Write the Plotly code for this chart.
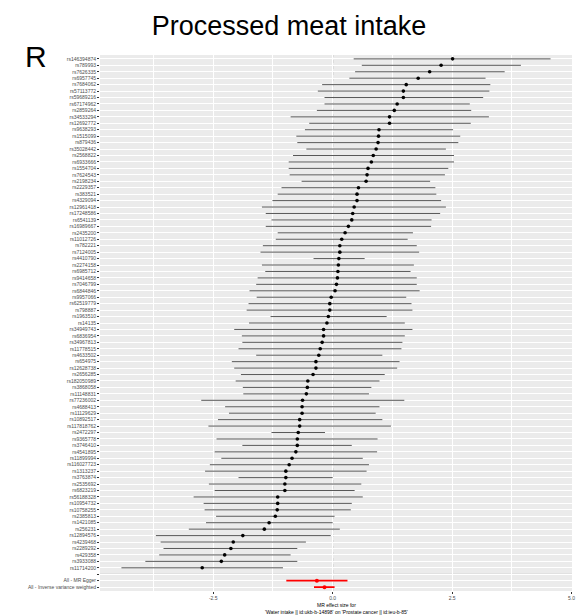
import plotly.graph_objects as go

# ---------------- data (top row first) ----------------
snps = [
    "rs146394874", "rs789993", "rs7626335", "rs6957745", "rs7684062", "rs57113772",
    "rs59689216", "rs67174962", "rs2859264", "rs34533294", "rs12692772", "rs9638293",
    "rs1515099", "rs879436", "rs35028442", "rs2568822", "rs6933666", "rs1554704",
    "rs7624543", "rs2198234", "rs2229357", "rs383521", "rs4329094", "rs12961418",
    "rs17248586", "rs6541139", "rs16989667", "rs2435200", "rs11012726", "rs782221",
    "rs7124005", "rs4410790", "rs2274158", "rs6985712", "rs9414658", "rs7046799",
    "rs6844846", "rs9957066", "rs62519779", "rs798887", "rs1963510", "rs14135",
    "rs34949743", "rs6836954", "rs34967813", "rs11778515", "rs4633502", "rs654975",
    "rs12628738", "rs2656285", "rs182050989", "rs3868058", "rs11148831", "rs77236002",
    "rs4688413", "rs11129629", "rs10892517", "rs117818762", "rs2472297", "rs9365778",
    "rs3746410", "rs4541895", "rs11899994", "rs116027723", "rs1313237", "rs3763874",
    "rs2535692", "rs6823219", "rs56188328", "rs10954732", "rs10758255", "rs2385813",
    "rs1421085", "rs256231", "rs12894576", "rs4239468", "rs2289292", "rs429358",
    "rs3933088", "rs11714200",
]

beta = [
    2.51, 2.27, 2.03, 1.79, 1.54, 1.48, 1.48, 1.35, 1.29, 1.19, 1.19, 0.97, 0.96, 0.95,
    0.91, 0.85, 0.81, 0.74, 0.72, 0.70, 0.54, 0.51, 0.51, 0.45, 0.42, 0.40, 0.33, 0.26,
    0.19, 0.15, 0.15, 0.13, 0.12, 0.11, 0.10, 0.08, 0.05, -0.03, -0.06, -0.06, -0.09,
    -0.12, -0.19, -0.19, -0.22, -0.26, -0.29, -0.35, -0.35, -0.41, -0.52, -0.53, -0.55,
    -0.63, -0.64, -0.64, -0.69, -0.69, -0.72, -0.74, -0.74, -0.77, -0.85, -0.91, -0.98,
    -0.98, -1.00, -1.00, -1.15, -1.15, -1.16, -1.20, -1.33, -1.43, -1.88, -2.08, -2.13,
    -2.26, -2.33, -2.73,
]

ci_lo = [
    0.44, 0.61, 0.47, 0.35, -0.22, -0.31, -0.17, -0.17, -0.33, -0.88, -0.49, -0.58,
    -0.76, -0.74, -0.55, -0.83, -0.92, -0.92, -0.90, -0.65, -1.07, -1.15, -1.26, -1.48,
    -1.40, -1.28, -1.40, -1.15, -1.19, -1.46, -1.51, -0.40, -1.48, -1.41, -1.57, -1.60,
    -1.74, -1.59, -1.76, -1.80, -1.30, -1.75, -2.06, -1.90, -1.89, -1.97, -1.60, -2.11,
    -2.06, -1.92, -2.03, -1.88, -1.87, -2.75, -2.25, -2.17, -2.40, -2.60, -1.28, -2.43,
    -1.89, -2.47, -2.33, -2.57, -2.67, -1.97, -2.59, -2.47, -2.91, -2.70, -2.68, -2.44,
    -2.65, -3.01, -3.70, -3.60, -3.54, -3.63, -3.92, -4.42,
]

ci_hi = [
    4.56, 3.94, 3.60, 3.20, 3.30, 3.28, 3.15, 2.87, 2.90, 3.27, 2.89, 2.52, 2.67, 2.63,
    2.37, 2.54, 2.54, 2.42, 2.35, 2.04, 2.15, 2.17, 2.27, 2.37, 2.25, 2.07, 2.06, 1.68,
    1.57, 1.76, 1.81, 0.67, 1.70, 1.63, 1.76, 1.76, 1.82, 1.54, 1.65, 1.67, 1.13, 1.51,
    1.67, 1.51, 1.46, 1.44, 1.04, 1.40, 1.35, 1.09, 0.98, 0.81, 0.76, 1.50, 0.98, 0.90,
    1.04, 1.22, -0.16, 0.94, 0.40, 0.93, 0.63, 0.76, 0.71, 0.00, 0.60, 0.46, 0.63, 0.40,
    0.38, 0.04, 0.00, 0.15, -0.04, -0.56, -0.74, -0.88, -0.74, -1.04,
]

summary_labels = ["All - MR Egger", "All - Inverse variance weighted"]
summary_beta = [-0.33, -0.17]
summary_lo = [-0.97, -0.39]
summary_hi = [0.31, 0.04]

x_tick_vals = [-2.5, 0.0, 2.5, 5.0]
x_tick_text = ["-2.5", "0.0", "2.5", "5.0"]

title_text = "Processed meat intake"
panel_letter = "R"
x_title = ("MR effect size for<br>'Water intake || id:ukb-b-14898' on "
           "'Prostate cancer || id:ieu-b-85'")

# ---------------- layout helpers ----------------
rows = snps + [""] + summary_labels
n_rows = len(rows)
ypos = [n_rows - i for i in range(n_rows)]
snp_y = ypos[:len(snps)]
blank_y = ypos[len(snps)]
sum_y = ypos[len(snps) + 1:]

all_lo = min(ci_lo + summary_lo)
all_hi = max(ci_hi + summary_hi)
span = all_hi - all_lo
x_range = [all_lo - 0.05 * span, all_hi + 0.05 * span]

W, H = 578, 615
ML, MR, MT, MB = 100, 3, 55, 24
plot_h = H - MT - MB
plot_w = W - ML - MR
FONT = "Liberation Sans, Arial, sans-serif"

fig = go.Figure()

fig.add_trace(go.Scatter(
    x=beta, y=snp_y, mode="markers",
    marker=dict(color="black", size=3.6),
    error_x=dict(type="data", symmetric=False,
                 array=[h - b for h, b in zip(ci_hi, beta)],
                 arrayminus=[b - l for b, l in zip(beta, ci_lo)],
                 width=0, thickness=1, color="#585858"),
    showlegend=False, hoverinfo="skip",
))

fig.add_trace(go.Scatter(
    x=summary_beta, y=sum_y, mode="markers",
    marker=dict(color="#ff0000", size=4),
    error_x=dict(type="data", symmetric=False,
                 array=[h - b for h, b in zip(summary_hi, summary_beta)],
                 arrayminus=[b - l for b, l in zip(summary_beta, summary_lo)],
                 width=0, thickness=1.8, color="#ff0000"),
    showlegend=False, hoverinfo="skip",
))

# dotted zero line and grey separator at blank row
fig.add_shape(type="line", xref="x", yref="paper", x0=0, x1=0, y0=0, y1=1,
              line=dict(color="#8a8a8a", width=1, dash="dot"), layer="below")
fig.add_shape(type="line", xref="paper", yref="y", x0=0, x1=1, y0=blank_y, y1=blank_y,
              line=dict(color="#c4c4c4", width=1.2), layer="below")

fig.update_layout(
    width=W, height=H,
    margin=dict(l=ML, r=MR, t=MT, b=MB),
    paper_bgcolor="white", plot_bgcolor="#EBEBEB",
    font=dict(family=FONT, color="#4D4D4D"),
    title=dict(text=title_text, font=dict(size=27, color="black", family=FONT),
               x=0.5, xref="container", xanchor="center",
               y=1 - 26 / H, yref="container", yanchor="middle"),
    xaxis=dict(range=x_range, tickmode="array", tickvals=x_tick_vals, ticktext=x_tick_text,
               tickfont=dict(size=5, color="#4D4D4D"), ticks="outside", ticklen=2,
               tickcolor="#333333", tickwidth=1, ticklabeloverflow="allow",
               showgrid=True, gridcolor="white", gridwidth=1,
               minor=dict(tickmode="array", tickvals=[-3.75, -1.25, 1.25, 3.75],
                          showgrid=True, gridcolor="white", gridwidth=0.5, ticks=""),
               zeroline=False, showline=False, fixedrange=True),
    yaxis=dict(range=[0.4, n_rows + 0.6], tickmode="array", tickvals=ypos, ticktext=rows,
               tickfont=dict(size=5, color="#4D4D4D"), ticks="outside", ticklen=2,
               tickcolor="#333333", tickwidth=1, ticklabeloverflow="allow",
               showgrid=True, gridcolor="white", gridwidth=1,
               zeroline=False, showline=False, fixedrange=True),
)

fig.add_annotation(text=panel_letter, xref="paper", yref="paper",
                   x=(36 - ML) / plot_w, y=(H - MB - 56) / plot_h,
                   xanchor="center", yanchor="middle", showarrow=False,
                   font=dict(size=30, color="black", family=FONT))

fig.add_annotation(text=x_title, xref="paper", yref="paper",
                   x=0.5, y=(H - MB - 608) / plot_h,
                   xanchor="center", yanchor="middle", showarrow=False,
                   font=dict(size=5, color="black", family=FONT))

fig.write_html("out.html")
